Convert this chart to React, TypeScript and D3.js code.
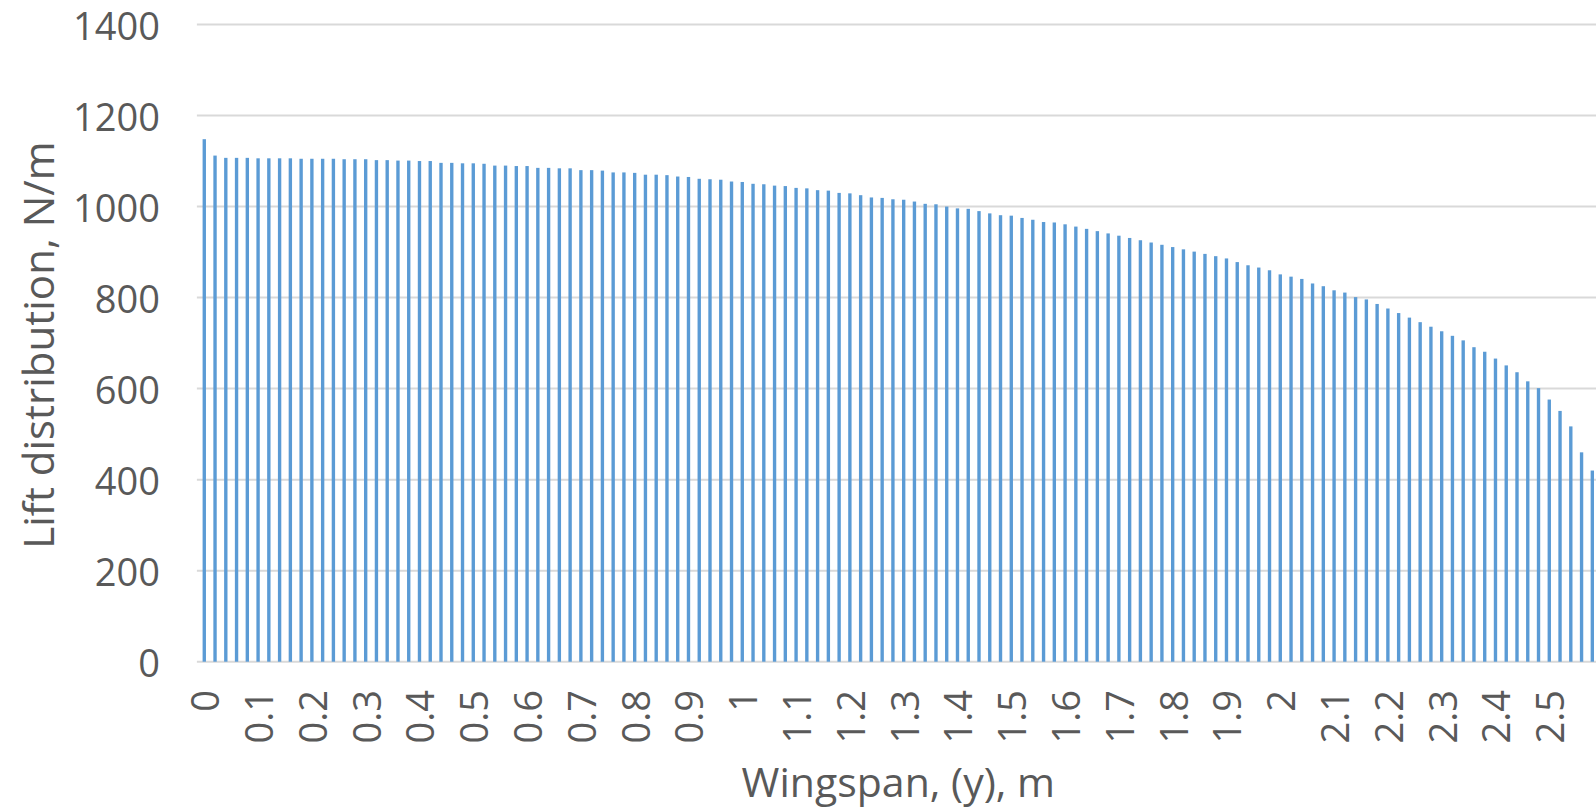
import React from "react";
import * as d3 from "d3";

// Spanwise stations along the half-wing, metres (0.02 m spacing)
const SPAN_STATIONS: number[] = d3.range(0, 130).map((i) => +(i * 0.02).toFixed(2));

// Lift per unit span at each station, N/m
const LIFT: number[] = [
  1148, 1112, 1107, 1107, 1107, 1106, 1106, 1106, 1106, 1105,
  1105, 1105, 1105, 1104, 1104, 1104, 1102, 1102, 1101, 1101,
  1100, 1100, 1096, 1096, 1095, 1095, 1094, 1090, 1090, 1089,
  1089, 1085, 1085, 1084, 1084, 1080, 1080, 1079, 1075, 1075,
  1074, 1070, 1070, 1069, 1066, 1065, 1061, 1060, 1059, 1055,
  1054, 1050, 1049, 1046, 1045, 1041, 1040, 1036, 1035, 1030,
  1029, 1025, 1020, 1019, 1016, 1015, 1011, 1006, 1005, 1000,
  996, 995, 990, 985, 981, 980, 975, 971, 966, 965,
  961, 956, 951, 946, 941, 936, 931, 926, 921, 916,
  911, 906, 901, 896, 891, 886, 878, 871, 866, 860,
  851, 846, 841, 831, 825, 816, 811, 801, 796, 786,
  776, 766, 756, 746, 736, 726, 716, 706, 691, 681,
  666, 651, 636, 616, 601, 576, 551, 517, 460, 420,
];

// Category labels shown along the span axis
const X_TICK_LABELS: string[] = [
  "0", "0.1", "0.2", "0.3", "0.4", "0.5", "0.6", "0.7", "0.8", "0.9",
  "1", "1.1", "1.2", "1.3", "1.4", "1.5", "1.6", "1.7", "1.8", "1.9",
  "2", "2.1", "2.2", "2.3", "2.4", "2.5",
];

const Y_TICKS: number[] = [0, 200, 400, 600, 800, 1000, 1200, 1400];

const WIDTH = 1596;
const HEIGHT = 811;
const PLOT = { left: 198.9, right: 1597.7, top: 24.5, bottom: 661.7 };

const FONT = "'Open Sans', 'Segoe UI', sans-serif";
const TEXT_COLOR = "#595959";
const GRID_COLOR = "#D9D9D9";
const BAR_COLOR = "#5B9BD5";

export default function App() {
  const x = d3
    .scaleBand<string>()
    .domain(SPAN_STATIONS.map(String))
    .range([PLOT.left, PLOT.right])
    .paddingInner(0.6865)
    .paddingOuter(0.6865 / 2);

  const y = d3.scaleLinear().domain([0, 1400]).range([PLOT.bottom, PLOT.top]);

  const labelSet = new Set(X_TICK_LABELS);

  return (
    <div style={{ position: "absolute", left: 0, top: 0 }}>
      <svg
        width={WIDTH}
        height={HEIGHT}
        style={{ display: "block", background: "#fff" }}
        fontFamily={FONT}
      >
        {/* horizontal gridlines */}
        {Y_TICKS.map((t) => (
          <line
            key={`g${t}`}
            x1={PLOT.left - 2}
            x2={WIDTH}
            y1={y(t)}
            y2={y(t)}
            stroke={GRID_COLOR}
            strokeWidth={2}
          />
        ))}

        {/* bars */}
        {SPAN_STATIONS.map((s, i) => (
          <rect
            key={`b${i}`}
            x={x(String(s))}
            y={y(LIFT[i])}
            width={x.bandwidth()}
            height={y(0) - y(LIFT[i])}
            fill={BAR_COLOR}
          />
        ))}

        {/* value axis labels */}
        {Y_TICKS.map((t) => (
          <text
            key={`yl${t}`}
            x={160}
            y={y(t)}
            textAnchor="end"
            dominantBaseline="central"
            fontSize={38}
            fill={TEXT_COLOR}
          >
            {t}
          </text>
        ))}

        {/* span axis labels, rotated */}
        {SPAN_STATIONS.filter((s) => labelSet.has(String(s))).map((s) => {
          const cx = (x(String(s)) as number) + x.bandwidth() / 2;
          return (
            <text
              key={`xl${s}`}
              transform={`translate(${cx},690) rotate(-90)`}
              textAnchor="end"
              dominantBaseline="central"
              fontSize={38}
              fill={TEXT_COLOR}
            >
              {String(s)}
            </text>
          );
        })}

        {/* axis titles */}
        <text
          x={(PLOT.left + PLOT.right) / 2}
          y={781}
          textAnchor="middle"
          dominantBaseline="central"
          fontSize={41}
          fill={TEXT_COLOR}
        >
          Wingspan, (y), m
        </text>
        <text
          transform={`translate(37,${(PLOT.top + PLOT.bottom) / 2 + 2}) rotate(-90)`}
          textAnchor="middle"
          dominantBaseline="central"
          fontSize={42}
          fill={TEXT_COLOR}
        >
          Lift distribution, N/m
        </text>
      </svg>
    </div>
  );
}
